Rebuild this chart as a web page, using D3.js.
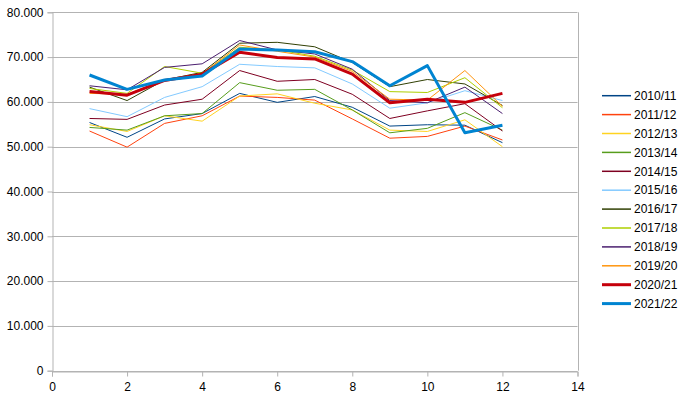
<!DOCTYPE html>
<html>
<head>
<meta charset="utf-8">
<script src="https://cdn.jsdelivr.net/npm/d3@7"></script>
<style>
  body { margin: 0; background: #fff; }
  text { font-family: "Liberation Sans", Arial, sans-serif; font-size: 12px; fill: #000; }
</style>
</head>
<body>
<div class="chart"></div>
<script>
const months = [1, 2, 3, 4, 5, 6, 7, 8, 9, 10, 11, 12];
const seasons = ['2010/11', '2011/12', '2012/13', '2013/14', '2014/15', '2015/16',
  '2016/17', '2017/18', '2018/19', '2019/20', '2020/21', '2021/22'];
const colors = ['#004586', '#ff420e', '#ffd320', '#579d1c', '#7e0021', '#83caff',
  '#314004', '#aecf00', '#4b1f6f', '#ff950e', '#c5000b', '#0084d1'];
const widths = [1, 1, 1, 1, 1, 1, 1, 1, 1, 1, 3, 3];

const v2010 = [55.4, 52.1, 56.2, 57.4, 61.9, 59.9, 61.2, 58.8, 54.6, 54.9, 54.8, 50.9];
const v2011 = [53.5, 49.9, 55.2, 56.9, 61.3, 61.0, 60.4, 56.2, 51.9, 52.3, 54.6, 51.5];
const v2012 = [54.9, 53.4, 56.9, 55.7, 61.3, 61.8, 59.7, 58.2, 53.7, 53.4, 56.0, 50.0];
const v2013 = [54.3, 53.7, 56.9, 57.4, 64.3, 62.6, 62.8, 58.2, 53.1, 54.1, 57.6, 53.7];
const v2014 = [56.3, 56.1, 59.3, 60.6, 67.0, 64.6, 65.0, 61.7, 56.3, 58.0, 59.6, 53.5];
const v2015 = [58.5, 56.7, 61.0, 63.4, 68.4, 67.9, 67.6, 64.0, 58.6, 59.8, 62.5, 60.3];
const v2016 = [63.3, 60.3, 64.9, 66.6, 73.1, 73.3, 72.3, 68.8, 63.4, 65.0, 64.0, 59.2];
const v2017 = [63.0, 61.9, 67.9, 66.4, 72.2, 71.6, 70.2, 67.1, 62.3, 62.1, 65.4, 58.7];
const v2018 = [63.6, 62.7, 67.7, 68.5, 73.7, 71.6, 70.7, 67.3, 60.3, 59.8, 63.3, 57.4];
const v2019 = [61.9, 61.7, 64.9, 66.3, 72.7, 71.3, 70.0, 66.8, 60.6, 60.4, 67.0, 59.0];
const v2020 = [62.3, 61.5, 64.8, 66.2, 71.1, 69.9, 69.6, 66.2, 59.8, 60.6, 59.9, 61.9];
const v2021 = [66.0, 62.8, 64.9, 65.8, 71.8, 71.6, 71.2, 69.0, 63.6, 68.1, 53.1, 54.8];
const allValues = [v2010, v2011, v2012, v2013, v2014, v2015, v2016, v2017, v2018, v2019, v2020, v2021];

const xTicks = [0, 2, 4, 6, 8, 10, 12, 14];
const yTicks = [0, 10, 20, 30, 40, 50, 60, 70, 80];

const width = 686, height = 399;
const plotLeft = 52, plotRight = 577.5, plotTop = 12.3, plotBottom = 370.7;
const grid = '#b3b3b3';

const svg = d3.select('.chart').append('svg')
  .attr('width', width)
  .attr('height', height);

const x = d3.scaleLinear([0, 14], [plotLeft, plotRight]);
const y = d3.scaleLinear([0, 80], [plotBottom, plotTop]);

// horizontal gridlines
svg.append('g')
  .selectAll('line')
  .data(yTicks)
  .enter()
  .append('line')
  .attr('x1', plotLeft)
  .attr('x2', plotRight)
  .attr('y1', d => Math.round(y(d)) + 0.5)
  .attr('y2', d => Math.round(y(d)) + 0.5)
  .attr('stroke', grid);

// right border
svg.append('line')
  .attr('x1', Math.round(plotRight) + 0.5).attr('x2', Math.round(plotRight) + 0.5)
  .attr('y1', y(80)).attr('y2', y(0))
  .attr('stroke', grid);

const yAxis = svg.append('g')
  .attr('transform', `translate(${Math.round(plotLeft) + 0.5},0)`)
  .call(d3.axisLeft(y).tickValues(yTicks).tickSize(5).tickPadding(4)
    .tickFormat(d => d === 0 ? '0' : d + '.000'));
yAxis.select('.domain').attr('stroke', grid);
yAxis.selectAll('.tick line').attr('stroke', grid);
yAxis.selectAll('.tick text').attr('font-size', 12).attr('font-family', '"Liberation Sans", Arial, sans-serif').attr('fill', '#000');

const xAxis = svg.append('g')
  .attr('transform', `translate(0,${Math.round(plotBottom) + 0.5})`)
  .call(d3.axisBottom(x).tickValues(xTicks).tickSize(5).tickPadding(6));
xAxis.select('.domain').attr('stroke', grid);
xAxis.selectAll('.tick line').attr('stroke', grid);
xAxis.selectAll('.tick text').attr('font-size', 12).attr('font-family', '"Liberation Sans", Arial, sans-serif').attr('fill', '#000');

const line = d3.line()
  .x((d, i) => x(months[i]))
  .y(d => y(d));

svg.append('g')
  .selectAll('path')
  .data(allValues)
  .enter()
  .append('path')
  .attr('d', d => line(d))
  .attr('fill', 'none')
  .attr('stroke', (d, i) => colors[i])
  .attr('stroke-width', (d, i) => widths[i])
  .attr('stroke-linejoin', 'round');

// legend
const legend = svg.append('g')
  .selectAll('g')
  .data(seasons)
  .enter()
  .append('g')
  .attr('transform', (d, i) => `translate(602,${95.7 + i * 18.9})`);
legend.append('line')
  .attr('x1', 0).attr('x2', 29)
  .attr('stroke', (d, i) => colors[i])
  .attr('stroke-width', (d, i) => widths[i] === 3 ? 3 : 1.5);
legend.append('text')
  .attr('x', 32)
  .attr('dy', '0.35em')
  .text(d => d);
</script>
</body>
</html>
